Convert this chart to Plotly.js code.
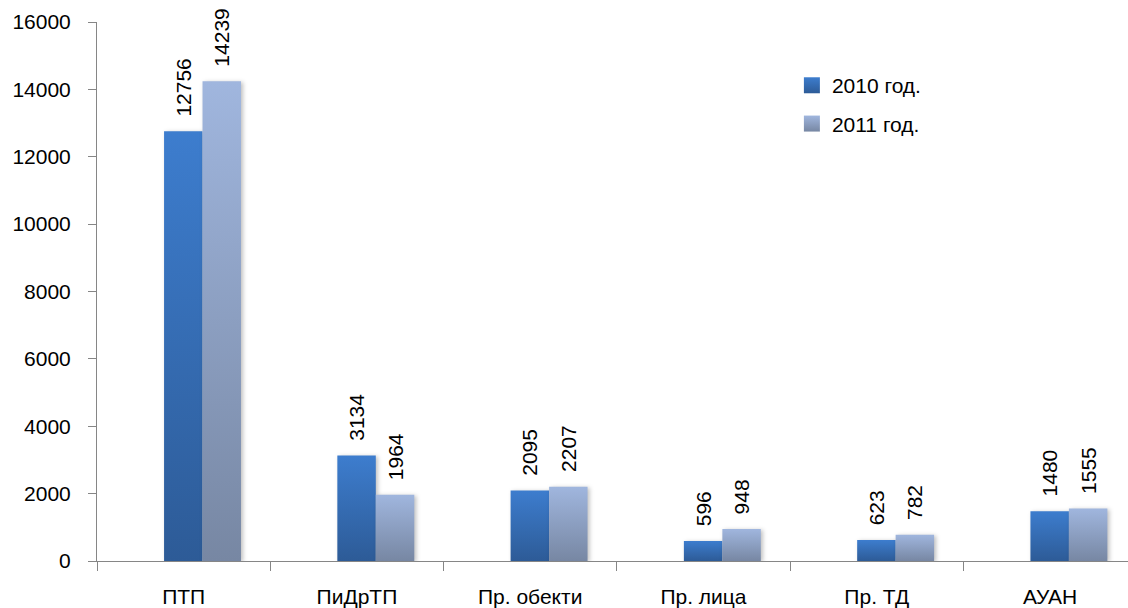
<!DOCTYPE html>
<html>
<head>
<meta charset="utf-8">
<script src="https://cdn.plot.ly/plotly-3.0.1.min.js"></script>
<style>
  html, body { margin: 0; padding: 0; background: #fff; }
  #chart { width: 1128px; height: 608px; }
</style>
</head>
<body>
<div id="chart"></div>
<script>
const categories = ["ПТП", "ПиДрТП", "Пр. обекти", "Пр. лица", "Пр. ТД", "АУАН"];
const values2010 = [12756, 3134, 2095, 596, 623, 1480];
const values2011 = [14239, 1964, 2207, 948, 782, 1555];
const seriesNames = ["2010 год.", "2011 год."];
const yTicks = [0, 2000, 4000, 6000, 8000, 10000, 12000, 14000, 16000];

const FONT = "Liberation Sans, Arial, sans-serif";
const FS = 21;
const AXIS = "#868686";

const traces = [
  {
    type: "bar", name: seriesNames[0], x: categories, y: values2010,
    width: 0.222, offset: -0.113, legendgroup: "a",
    marker: { color: "#3569B0", line: { width: 0 } },
    texttemplate: "\u00a0\u00a0%{y:d}", textposition: "outside", textangle: -90,
    textfont: { family: FONT, size: FS, color: "#000" },
    constraintext: "none", cliponaxis: false, hoverinfo: "skip"
  },
  {
    type: "bar", name: seriesNames[1], x: categories, y: values2011,
    width: 0.222, offset: 0.109, legendgroup: "b",
    marker: { color: "#8DA0C4", line: { width: 0 } },
    texttemplate: "\u00a0\u00a0%{y:d}", textposition: "outside", textangle: -90,
    textfont: { family: FONT, size: FS, color: "#000" },
    constraintext: "none", cliponaxis: false, hoverinfo: "skip"
  }
];

const layout = {
  width: 1128, height: 608,
  margin: { l: 97, r: 0, t: 22, b: 47, pad: 0 },
  paper_bgcolor: "#fff", plot_bgcolor: "#fff",
  font: { family: FONT, size: FS, color: "#000" },
  barmode: "overlay",
  showlegend: true,
  legend: {
    x: 0.674, y: 0.92, xanchor: "left", yanchor: "top",
    font: { family: FONT, size: FS, color: "#000" },
    traceorder: "grouped", tracegroupgap: 8,
    bgcolor: "rgba(0,0,0,0)"
  },
  xaxis: {
    type: "category", range: [-0.5, 5.45],
    tickson: "boundaries", ticks: "outside", ticklen: 9, tickcolor: AXIS, tickwidth: 1,
    showline: true, linecolor: AXIS, linewidth: 1, showgrid: false, zeroline: false,
    ticklabelstandoff: 17,
    tickfont: { family: FONT, size: FS, color: "#000" }
  },
  yaxis: {
    range: [0, 16000], tickvals: yTicks, ticktext: yTicks.map(String),
    ticks: "outside", ticklen: 8, tickcolor: AXIS, tickwidth: 1,
    showline: true, linecolor: AXIS, linewidth: 1, showgrid: false, zeroline: false,
    ticklabelstandoff: 13,
    tickfont: { family: FONT, size: FS, color: "#000" }
  }
};

Plotly.newPlot("chart", traces, layout, { staticPlot: true, displayModeBar: false }).then(function (gd) {
  const svg = gd.querySelector("svg.main-svg");
  const ns = "http://www.w3.org/2000/svg";
  let defs = svg.querySelector("defs");
  if (!defs) { defs = document.createElementNS(ns, "defs"); svg.insertBefore(defs, svg.firstChild); }
  function grad(id, top, bottom) {
    const g = document.createElementNS(ns, "linearGradient");
    g.setAttribute("id", id);
    g.setAttribute("x1", "0"); g.setAttribute("y1", "0");
    g.setAttribute("x2", "0"); g.setAttribute("y2", "1");
    [[0, top], [1, bottom]].forEach(function (s) {
      const st = document.createElementNS(ns, "stop");
      st.setAttribute("offset", s[0]);
      st.setAttribute("stop-color", s[1]);
      g.appendChild(st);
    });
    defs.appendChild(g);
  }
  grad("g2010", "#3D7DCE", "#2D5B97");
  grad("g2011", "#A0B6DE", "#7787A3");
  const ids = ["g2010", "g2011"];
  gd.querySelectorAll(".barlayer .trace.bars").forEach(function (tr, i) {
    tr.querySelectorAll("path").forEach(function (p) {
      p.style.fill = "url(#" + ids[i] + ")";
      p.style.filter = "drop-shadow(2px 1px 2px rgba(0,0,0,0.25))";
    });
  });
  gd.querySelectorAll(".legend .traces").forEach(function (tr, i) {
    tr.querySelectorAll(".legendpoints path").forEach(function (p) {
      p.style.fill = "url(#" + ids[i] + ")";
      p.setAttribute("d", "M8,8H-8V-8H8Z");
    });
  });
});
</script>
</body>
</html>
